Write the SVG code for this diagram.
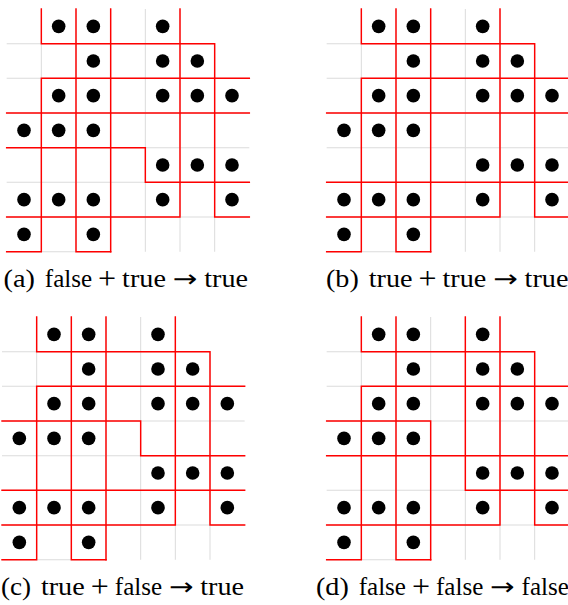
<svg xmlns="http://www.w3.org/2000/svg" xmlns:xlink="http://www.w3.org/1999/xlink" width="568" height="605" viewBox="0 0 568 605">
<style>
.grid{fill:none;stroke:#dcdcdc;stroke-width:0.03}
.red{fill:none;stroke:#ff0000;stroke-width:0.042;stroke-linecap:square;stroke-linejoin:miter}
.dot{fill:#000}
.cap{font-family:"Liberation Serif","Times New Roman",serif;font-size:24.6px;fill:#000}
.plus{font-size:32px;text-anchor:middle}
.arr{font-family:"DejaVu Sans",sans-serif;font-size:24px}
</style>
<defs>
<path id="gridlines" class="grid" d="M1 0V7M2 0V7M3 0V7M4 0V7M5 0V7M6 1V7M0 1H6M0 2H7M0 3H7M0 4H7M0 5H7M0 6H7M0 7H3"/>
<path id="redcommon" class="red" d="M1 0V1M1 2V7M2 0V7M5 0V6M6 1V6M1 1H6M1 2H7M0 6H5M6 6H7M0 7H1M2 7H3"/>
<g id="dots" class="dot">
<circle cx="1.5" cy="0.5" r="0.196"/><circle cx="2.5" cy="0.5" r="0.196"/><circle cx="4.5" cy="0.5" r="0.196"/>
<circle cx="2.5" cy="1.5" r="0.196"/><circle cx="4.5" cy="1.5" r="0.196"/><circle cx="5.5" cy="1.5" r="0.196"/>
<circle cx="1.5" cy="2.5" r="0.196"/><circle cx="2.5" cy="2.5" r="0.196"/><circle cx="4.5" cy="2.5" r="0.196"/><circle cx="5.5" cy="2.5" r="0.196"/><circle cx="6.5" cy="2.5" r="0.196"/>
<circle cx="0.5" cy="3.5" r="0.196"/><circle cx="1.5" cy="3.5" r="0.196"/><circle cx="2.5" cy="3.5" r="0.196"/>
<circle cx="4.5" cy="4.5" r="0.196"/><circle cx="5.5" cy="4.5" r="0.196"/><circle cx="6.5" cy="4.5" r="0.196"/>
<circle cx="0.5" cy="5.5" r="0.196"/><circle cx="1.5" cy="5.5" r="0.196"/><circle cx="2.5" cy="5.5" r="0.196"/><circle cx="4.5" cy="5.5" r="0.196"/><circle cx="6.5" cy="5.5" r="0.196"/>
<circle cx="0.5" cy="6.5" r="0.196"/><circle cx="2.5" cy="6.5" r="0.196"/>
</g>
</defs>
<rect width="568" height="605" fill="#fff"/>

<g id="panel-a" transform="translate(6.667 9) scale(34.6667)">
<use xlink:href="#gridlines"/>
<use xlink:href="#redcommon"/>
<path class="red" d="M3 0V7M4 4V5M0 3H7M0 4H4M4 5H7"/>
<use xlink:href="#dots"/>
</g>
<g id="panel-b" transform="translate(326.667 9) scale(34.6667)">
<use xlink:href="#gridlines"/>
<use xlink:href="#redcommon"/>
<path class="red" d="M3 0V7M0 3H7M0 5H7"/>
<use xlink:href="#dots"/>
</g>
<g id="panel-c" transform="translate(2 317) scale(34.6667)">
<use xlink:href="#gridlines"/>
<use xlink:href="#redcommon"/>
<path class="red" d="M3 0V7M4 3V4M0 3H4M4 4H7M0 5H7"/>
<use xlink:href="#dots"/>
</g>
<g id="panel-d" transform="translate(326.667 317) scale(34.6667)">
<use xlink:href="#gridlines"/>
<use xlink:href="#redcommon"/>
<path class="red" d="M3 3V7M4 0V5M0 3H3M0 4H7M4 5H7"/>
<use xlink:href="#dots"/>
</g>

<g id="caption-a" class="cap">
<text x="3.5" y="287" textLength="31.4" lengthAdjust="spacingAndGlyphs">(a)</text>
<text x="44.8" y="287" textLength="47.3" lengthAdjust="spacingAndGlyphs">false</text>
<text class="plus" x="107.1" y="289.2">+</text>
<text x="122.1" y="287" textLength="43.8" lengthAdjust="spacingAndGlyphs">true</text>
<text class="arr" x="172.8" y="287" textLength="24.6" lengthAdjust="spacingAndGlyphs">→</text>
<text x="204.2" y="287" textLength="43.8" lengthAdjust="spacingAndGlyphs">true</text>
</g>
<g id="caption-b" class="cap">
<text x="326" y="287" textLength="32.8" lengthAdjust="spacingAndGlyphs">(b)</text>
<text x="368.7" y="287" textLength="43.8" lengthAdjust="spacingAndGlyphs">true</text>
<text class="plus" x="427.5" y="289.2">+</text>
<text x="442.5" y="287" textLength="43.8" lengthAdjust="spacingAndGlyphs">true</text>
<text class="arr" x="493.2" y="287" textLength="24.6" lengthAdjust="spacingAndGlyphs">→</text>
<text x="524.6" y="287" textLength="43.8" lengthAdjust="spacingAndGlyphs">true</text>
</g>
<g id="caption-c" class="cap">
<text x="1" y="595" textLength="30.1" lengthAdjust="spacingAndGlyphs">(c)</text>
<text x="40.9" y="595" textLength="43.8" lengthAdjust="spacingAndGlyphs">true</text>
<text class="plus" x="99.8" y="597.2">+</text>
<text x="114.8" y="595" textLength="47.3" lengthAdjust="spacingAndGlyphs">false</text>
<text class="arr" x="168.9" y="595" textLength="24.6" lengthAdjust="spacingAndGlyphs">→</text>
<text x="200.3" y="595" textLength="43.8" lengthAdjust="spacingAndGlyphs">true</text>
</g>
<g id="caption-d" class="cap">
<text x="316" y="595" textLength="32.8" lengthAdjust="spacingAndGlyphs">(d)</text>
<text x="358.7" y="595" textLength="47.3" lengthAdjust="spacingAndGlyphs">false</text>
<text class="plus" x="421" y="597.2">+</text>
<text x="436" y="595" textLength="47.3" lengthAdjust="spacingAndGlyphs">false</text>
<text class="arr" x="490.1" y="595" textLength="24.6" lengthAdjust="spacingAndGlyphs">→</text>
<text x="521.6" y="595" textLength="47.3" lengthAdjust="spacingAndGlyphs">false</text>
</g>
</svg>
